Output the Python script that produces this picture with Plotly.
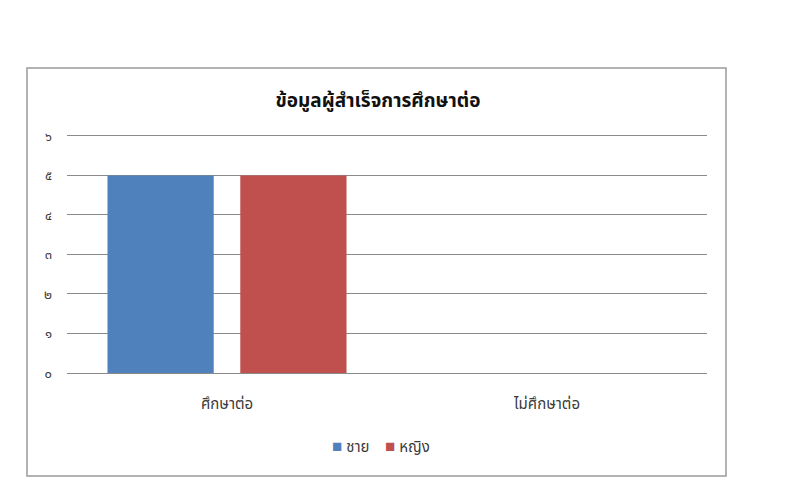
import plotly.graph_objects as go

categories = ["ศึกษาต่อ", "ไม่ศึกษาต่อ"]
male = [5, 0]
female = [5, 0]
series_names = ["ชาย", "หญิง"]
series_colors = ["#4F81BD", "#C0504D"]
tick_vals = [0, 1, 2, 3, 4, 5, 6]
tick_text = ["๐", "๑", "๒", "๓", "๔", "๕", "๖"]
title_text = "ข้อมูลผู้สำเร็จการศึกษาต่อ"

FONT = "Noto Sans Thai, Tahoma, Noto Sans, sans-serif"

fig = go.Figure()
for name, vals, col in zip(series_names, [male, female], series_colors):
    fig.add_trace(go.Bar(x=categories, y=vals, name=name, marker_color=col,
                         marker_line_width=0, showlegend=False))

# plot area: x 67..707 px, y 132..373 px (value 6 at 136 px)
YMAX = 6.1
L, R, T, B = 67, 93, 132, 127
pw, ph = 800 - L - R, 500 - T - B

def px_x(p):
    return (p - L) / pw

def px_y(p):
    return (500 - B - p) / ph

legend_html = "&nbsp;&nbsp;&nbsp;&nbsp;".join(
    f"<span style='color:{c};font-size:17px'>■</span> {n}" for n, c in zip(series_names, series_colors))

fig.update_layout(
    width=800, height=500,
    margin=dict(l=L, r=R, t=T, b=B),
    paper_bgcolor="white", plot_bgcolor="white",
    barmode="group", bargap=0.17, bargroupgap=0.2,
    font=dict(family=FONT, color="#3a3a3a", size=14),
    title=dict(text="<b>" + title_text + "</b>", x=px_x(378), xref="paper", xanchor="center",
               y=1 - 100 / 500, yanchor="middle", yref="container",
               font=dict(size=19, color="#111111", family=FONT)),
    showlegend=False,
    annotations=[dict(text=legend_html, xref="paper", yref="paper", x=px_x(381), y=px_y(447),
                      xanchor="center", yanchor="middle", showarrow=False,
                      font=dict(size=15, color="#3a3a3a", family=FONT))],
    xaxis=dict(showgrid=False, showline=False, ticks="", tickfont=dict(size=15, color="#3a3a3a"),
               ticklabelstandoff=20),
    yaxis=dict(range=[0, YMAX], tickvals=tick_vals, ticktext=tick_text, showgrid=True,
               gridcolor="#8a8a8a", gridwidth=1, zeroline=True, zerolinecolor="#8a8a8a",
               zerolinewidth=1, showline=False, ticks="", tickfont=dict(size=13, color="#3a3a3a"),
               ticklabelstandoff=14),
    shapes=[dict(type="rect", xref="paper", yref="paper",
                 x0=px_x(27), x1=px_x(726), y0=px_y(476), y1=px_y(68),
                 line=dict(color="#9a9a9a", width=1.5), fillcolor="rgba(0,0,0,0)", layer="below")],
)

fig.write_html("out.html", config={"displayModeBar": False},
               post_script="document.body.style.margin='0px';")
